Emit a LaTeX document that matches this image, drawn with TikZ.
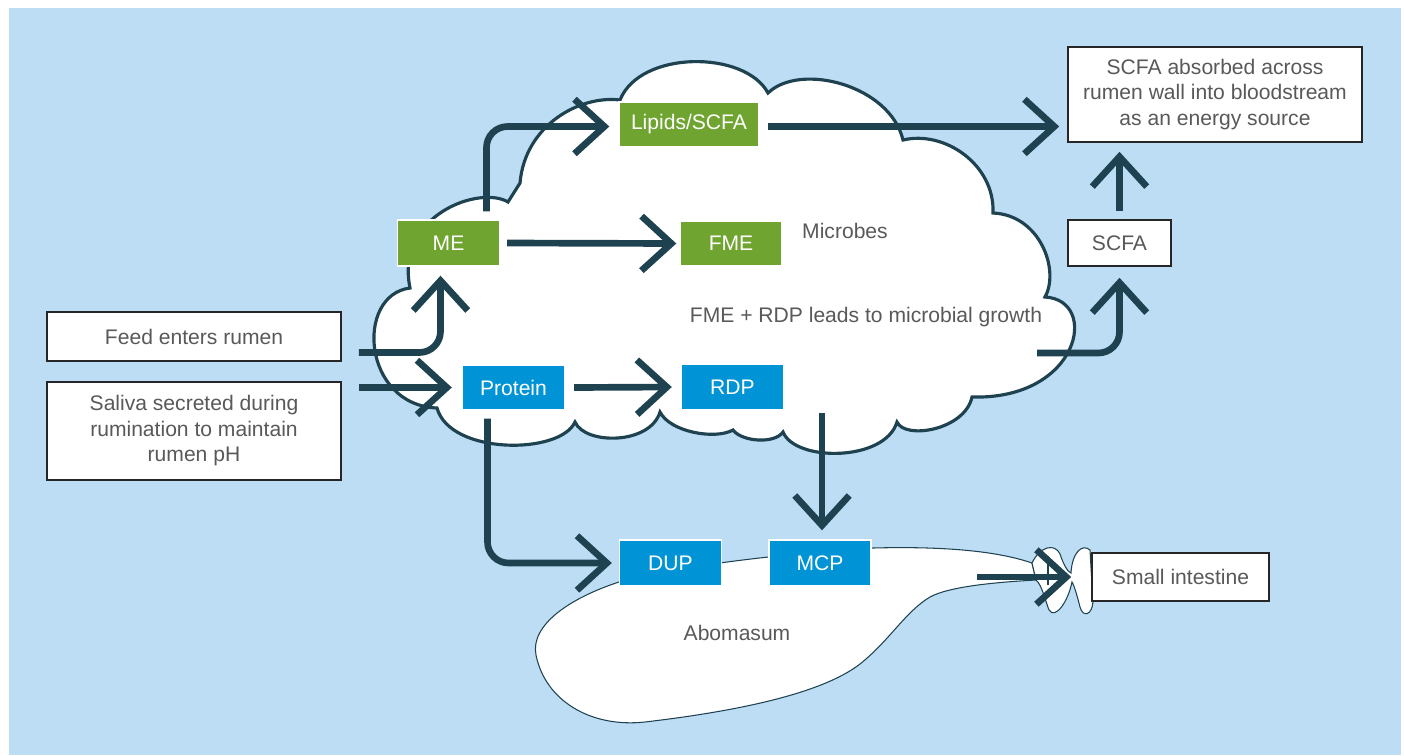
\documentclass[tikz,border=0pt]{standalone}
\usepackage{fontspec}
\setmainfont{Liberation Sans}
\usetikzlibrary{positioning,arrows.meta,calc}
\definecolor{RumenSky}{HTML}{BDDDF5}
\definecolor{FeedGreen}{HTML}{6EA42F}
\definecolor{ProteinBlue}{HTML}{0094D6}
\definecolor{FlowTeal}{HTML}{1F4250}
\definecolor{LabelGray}{HTML}{595959}
\newcommand{\bodyfont}{\fontsize{12pt}{14.5pt}\selectfont}
\tikzset{
  flow/.style={-{Straight Barb[length=17pt,width=31pt]},FlowTeal,line width=3.8pt},
  labelbox/.style={draw=black!85,fill=white,line width=0.9pt,text=LabelGray,align=center,inner sep=0pt,font=\bodyfont},
  greenbox/.style={draw=white,fill=FeedGreen,line width=0.8pt,text=white,inner sep=0pt,minimum width=2.04cm,minimum height=0.92cm,font=\bodyfont},
  bluebox/.style={greenbox,fill=ProteinBlue},
  plaintext/.style={text=LabelGray,font=\bodyfont},
}

\begin{document}
\begin{tikzpicture}[x=0.02cm,y=-0.02cm]
    \useasboundingbox (0,0) rectangle (1404,755);
    \fill[RumenSky] (9,8) rectangle (1401,755);
    % abomasum
    \draw[FlowTeal,line width=0.6pt,fill=white] (1036,580)
        .. controls (1000,582) and (950,586) .. (930,597)
        .. controls (905,612) and (890,640) .. (860,664)
        .. controls (820,695) and (730,712) .. (645,722)
        .. controls (590,728) and (545,700) .. (536,655)
        .. controls (530,625) and (570,598) .. (619,582)
        .. controls (660,570) and (760,555) .. (873,548)
        .. controls (950,546) and (1000,552) .. (1032,563) -- cycle;
    % small intestine folds
    \draw[FlowTeal,line width=0.6pt,fill=white] (1032,563)
        .. controls (1040,546) and (1055,543) .. (1060,554)
        .. controls (1064,566) and (1068,572) .. (1071,573)
        .. controls (1072,553) and (1082,543) .. (1090,550)
        -- (1093,602)
        .. controls (1092,615) and (1083,618) .. (1080,607)
        .. controls (1077,595) and (1074,585) .. (1072,582)
        .. controls (1068,602) and (1055,620) .. (1049,610)
        .. controls (1045,600) and (1042,585) .. (1036,580) -- cycle;
    \draw[FlowTeal,line width=0.6pt] (1048,556) -- (1048,585);
    % rumen cloud
    \draw[FlowTeal,line width=1.8pt,fill=white] (410,288)
        .. controls (355,295) and (362,405) .. (437,408)
        .. controls (450,455) and (560,455) .. (575,422)
        .. controls (585,445) and (650,445) .. (660,412)
        .. controls (670,432) and (715,440) .. (733,430)
        .. controls (742,442) and (775,444) .. (783,432)
        .. controls (795,462) and (885,462) .. (897,422)
        .. controls (905,440) and (965,430) .. (972,397)
        .. controls (1080,400) and (1100,300) .. (1045,297)
        .. controls (1060,270) and (1040,215) .. (993,213)
        .. controls (995,165) and (945,130) .. (903,140)
        .. controls (890,85) and (800,62) .. (768,93)
        .. controls (745,50) and (640,50) .. (620,100)
        .. controls (580,95) and (525,125) .. (520,183)
        -- (508,202)
        .. controls (480,185) and (395,215) .. (410,288) -- cycle;

    % inputs and outputs
    \node[labelbox,minimum width=5.88cm,minimum height=0.98cm] (feed) at (194,336.5) {Feed enters rumen};
    \node[labelbox,minimum width=5.88cm,minimum height=1.96cm] (saliva) at (194,431) {Saliva secreted during\\rumination to maintain\\rumen pH};
    \node[labelbox,minimum width=5.88cm,minimum height=1.9cm] (absorbed) at (1215,94.5) {SCFA absorbed across\\rumen wall into bloodstream\\as an energy source};
    \node[labelbox,minimum width=2.06cm,minimum height=0.92cm] (scfa) at (1119.5,243) {SCFA};
    \node[labelbox,minimum width=3.54cm,minimum height=0.96cm] (smallint) at (1180.5,577) {Small intestine};

    % rumen contents
    \node[greenbox] (me) at (448.5,243) {ME};
    \node[greenbox,minimum width=2.8cm,minimum height=0.9cm] (lipids) at (689,124.5) {Lipids/SCFA};
    \node[greenbox,minimum height=0.9cm] (fme) at (731,243.5) {FME};
    \node[bluebox,minimum height=0.9cm] (protein) at (513.5,387.5) {Protein};
    \node[bluebox,minimum height=0.9cm] (rdp) at (732.5,387) {RDP};
    \node[bluebox] (dup) at (670.5,563) {DUP};
    \node[bluebox] (mcp) at (820,563) {MCP};
    \node[plaintext] (microbes) at (845,231) {Microbes};
    \node[plaintext] (growth) at (866,317) {FME + RDP leads to microbial growth};
    \node[plaintext] (abomasum) at (737,633) {Abomasum};
    \coordinate (rumenexit) at (1037,353);
    \coordinate (pylorus) at (977,577);

    % flows
    \draw[flow,rounded corners=12pt] ($(feed.east)+(17,16)$) -| ($(me.south)+(-8,9)$);
    \draw[flow] ($(saliva.east |- protein.west)+(17,0)$) -- ($(protein.west)+(-10,0)$);
    \draw[flow,rounded corners=12pt] ($(me.north)+(38,-8)$) |- ($(lipids.west)+(-9,2)$);
    \draw[flow] ($(me.east)+(7,0)$) -- ($(fme.west)+(-3,0)$);
    \draw[flow] ($(lipids.east)+(8,2)$) -- ($(lipids.east -| absorbed.west)+(-8,2)$);
    \draw[flow] ($(protein.east)+(9,0)$) -- ($(rdp.west)+(-9,0)$);
    \draw[flow] ($(mcp.north |- rdp.south)+(2,3)$) -- ($(mcp.north)+(2,-9)$);
    \draw[flow,rounded corners=12pt] ($(protein.south)+(-26,8)$) |- ($(dup.west)+(-7,0)$);
    \draw[flow,rounded corners=12pt] (rumenexit) -| ($(scfa.south)+(0,11)$);
    \draw[flow] ($(scfa.north)+(0,-8)$) -- ($(scfa.north |- absorbed.south)+(0,9)$);
    \draw[flow] (pylorus) -- ($(smallint.west)+(-20,0)$);
\end{tikzpicture}
\end{document}
